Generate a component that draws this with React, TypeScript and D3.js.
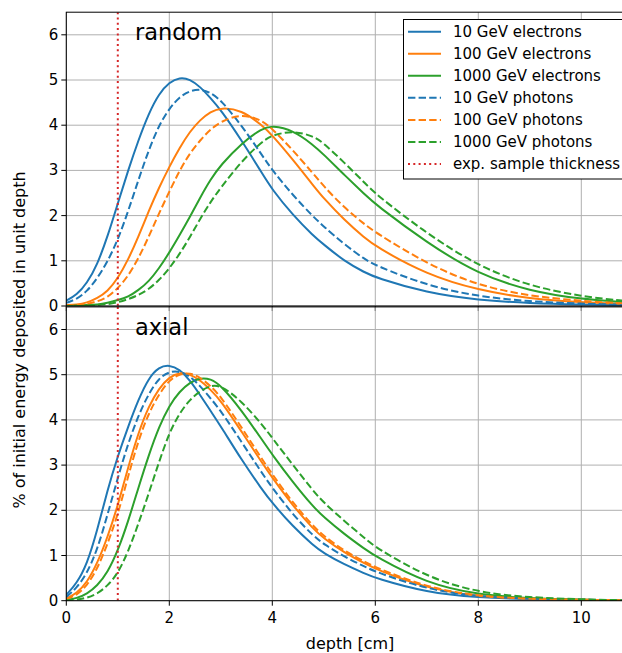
import React from "react";
import * as d3 from "d3";

// depth samples [cm]
const depth = [0, 0.2, 0.4, 0.6, 0.8, 1.0, 1.2, 1.4, 1.6, 1.8, 2.0, 2.2, 2.4, 2.6, 2.8, 3.0, 3.4, 3.8, 4.0, 4.4, 4.8, 5.0, 5.4, 5.8, 6.0, 7, 8, 9, 10, 10.8];

// random orientation
const randomE10 = [0.12, 0.24, 0.5, 0.91, 1.53, 2.27, 3.0, 3.67, 4.26, 4.7, 4.95, 5.06, 5.02, 4.85, 4.6, 4.34, 3.67, 2.94, 2.57, 2.01, 1.55, 1.36, 0.99, 0.74, 0.63, 0.29, 0.13, 0.06, 0.03, 0.02];
const randomE100 = [0.02, 0.03, 0.07, 0.17, 0.32, 0.61, 1.02, 1.53, 2.1, 2.62, 3.08, 3.5, 3.86, 4.12, 4.3, 4.39, 4.34, 4.0, 3.78, 3.24, 2.66, 2.38, 1.9, 1.5, 1.32, 0.69, 0.35, 0.16, 0.08, 0.05];
const randomE1000 = [0, 0.01, 0.02, 0.03, 0.07, 0.13, 0.2, 0.35, 0.54, 0.83, 1.18, 1.57, 1.97, 2.4, 2.8, 3.12, 3.6, 3.93, 3.99, 3.89, 3.56, 3.35, 2.9, 2.46, 2.25, 1.4, 0.7, 0.33, 0.15, 0.09];
const randomP10 = [0.07, 0.15, 0.32, 0.61, 0.98, 1.46, 2.09, 2.79, 3.45, 4.0, 4.37, 4.63, 4.76, 4.8, 4.72, 4.56, 4.0, 3.34, 3.0, 2.45, 1.97, 1.76, 1.36, 1.03, 0.9, 0.45, 0.21, 0.1, 0.05, 0.03];
const randomP100 = [0.01, 0.02, 0.04, 0.1, 0.19, 0.39, 0.66, 1.05, 1.53, 2.05, 2.53, 3.0, 3.38, 3.67, 3.91, 4.08, 4.26, 4.11, 3.92, 3.45, 2.92, 2.65, 2.17, 1.8, 1.63, 0.93, 0.45, 0.22, 0.11, 0.06];
const randomP1000 = [0, 0, 0.01, 0.02, 0.04, 0.08, 0.15, 0.24, 0.37, 0.57, 0.83, 1.15, 1.52, 1.93, 2.3, 2.62, 3.2, 3.64, 3.78, 3.88, 3.76, 3.6, 3.17, 2.72, 2.48, 1.6, 0.88, 0.44, 0.21, 0.12];

// axial orientation
const axialE10 = [0.13, 0.38, 0.8, 1.55, 2.45, 3.2, 3.85, 4.45, 4.93, 5.17, 5.22, 5.12, 4.88, 4.55, 4.2, 3.86, 3.12, 2.46, 2.16, 1.64, 1.22, 1.05, 0.8, 0.6, 0.5, 0.18, 0.07, 0.03, 0.02, 0.01];
const axialE100 = [0.05, 0.16, 0.4, 0.82, 1.4, 2.1, 2.95, 3.72, 4.3, 4.7, 4.95, 5.05, 5.01, 4.88, 4.67, 4.43, 3.75, 3.05, 2.72, 2.1, 1.58, 1.38, 1.06, 0.82, 0.7, 0.27, 0.09, 0.04, 0.02, 0.01];
const axialE1000 = [0.02, 0.05, 0.15, 0.33, 0.62, 1.1, 1.75, 2.5, 3.22, 3.85, 4.32, 4.63, 4.83, 4.93, 4.91, 4.77, 4.22, 3.56, 3.23, 2.62, 2.07, 1.85, 1.47, 1.14, 0.98, 0.38, 0.13, 0.05, 0.02, 0.01];
const axialP10 = [0.08, 0.28, 0.6, 1.12, 1.9, 2.72, 3.48, 4.1, 4.58, 4.93, 5.07, 5.08, 4.97, 4.75, 4.48, 4.2, 3.52, 2.82, 2.5, 1.9, 1.43, 1.25, 0.97, 0.75, 0.64, 0.25, 0.09, 0.04, 0.02, 0.01];
const axialP100 = [0.03, 0.12, 0.33, 0.7, 1.25, 1.9, 2.75, 3.55, 4.15, 4.57, 4.88, 5.02, 5.04, 4.94, 4.75, 4.52, 3.84, 3.13, 2.8, 2.16, 1.64, 1.43, 1.1, 0.86, 0.74, 0.29, 0.1, 0.04, 0.02, 0.01];
const axialP1000 = [0.01, 0.02, 0.06, 0.15, 0.33, 0.6, 1.08, 1.7, 2.37, 3.07, 3.72, 4.15, 4.45, 4.64, 4.76, 4.77, 4.42, 3.9, 3.6, 3.0, 2.42, 2.17, 1.76, 1.38, 1.18, 0.52, 0.18, 0.07, 0.03, 0.01];

const labels = ["10 GeV electrons", "100 GeV electrons", "1000 GeV electrons", "10 GeV photons", "100 GeV photons", "1000 GeV photons", "exp. sample thickness"];
const sampleThickness = 1.0;
const xTicks = [0, 2, 4, 6, 8, 10];
const yTicks = [0, 1, 2, 3, 4, 5, 6];

const colors = ["#1f77b4", "#ff7f0e", "#2ca02c"];
const red = "#d62728";
const font = "DejaVu Sans, sans-serif";

const x = d3.scaleLinear().domain([0, 10.8]).range([66.3, 622.5]);

const panels = [
  { name: "random", top: 12.2, bottom: 306, data: [randomE10, randomE100, randomE1000, randomP10, randomP100, randomP1000] },
  { name: "axial", top: 306.9, bottom: 600.7, data: [axialE10, axialE100, axialE1000, axialP10, axialP100, axialP1000] },
];

function Panel({ p, idx, last }) {
  const y = d3.scaleLinear().domain([0, 6.5]).range([p.bottom, p.top]);
  const line = d3.line<number>()
    .x((d, i) => x(depth[i]))
    .y(d => y(d))
    .curve(d3.curveBasis);
  const [x0, x1] = x.range();
  const clipId = "clip" + idx;
  return (
    <g>
      <clipPath id={clipId}>
        <rect x={x0} y={p.top} width={x1 - x0} height={p.bottom - p.top} />
      </clipPath>
      {/* grid */}
      {xTicks.map(t => (
        <line key={"gx" + t} x1={x(t)} x2={x(t)} y1={p.top} y2={p.bottom} stroke="#b0b0b0" strokeWidth={1} />
      ))}
      {yTicks.map(t => (
        <line key={"gy" + t} x1={x0} x2={x1} y1={y(t)} y2={y(t)} stroke="#b0b0b0" strokeWidth={1} />
      ))}
      <g clipPath={`url(#${clipId})`}>
        {p.data.map((vals, i) => (
          <path key={i} d={line(vals) || ""} fill="none" stroke={colors[i % 3]} strokeWidth={2}
            strokeDasharray={i >= 3 ? "7.4,3.2" : undefined} />
        ))}
        <line x1={x(sampleThickness)} x2={x(sampleThickness)} y1={p.top} y2={p.bottom}
          stroke={red} strokeWidth={2} strokeDasharray="2,3.3" />
      </g>
      {/* spines */}
      <rect x={x0} y={p.top} width={x1 - x0} height={p.bottom - p.top} fill="none" stroke="#000" strokeWidth={1} />
      {/* y ticks */}
      {yTicks.map(t => (
        <g key={"ty" + t}>
          <line x1={x0 - 5} x2={x0} y1={y(t)} y2={y(t)} stroke="#000" strokeWidth={1} />
          <text x={x0 - 8} y={y(t) + 5} textAnchor="end" fontSize={15} fontFamily={font}>{t}</text>
        </g>
      ))}
      {/* x ticks */}
      {xTicks.map(t => (
        <g key={"tx" + t}>
          <line x1={x(t)} x2={x(t)} y1={p.bottom} y2={p.bottom + 5} stroke="#000" strokeWidth={1} />
          {last && <text x={x(t)} y={p.bottom + 22} textAnchor="middle" fontSize={15} fontFamily={font}>{t}</text>}
        </g>
      ))}
      <text x={135} y={p.top + 28} fontSize={22.5} fontFamily={font}>{p.name}</text>
    </g>
  );
}

function Legend() {
  const lx = 403.5, ly = 19.5, rowH = 22.05;
  return (
    <g>
      <rect x={lx} y={ly} width={240} height={159.5} fill="#fff" stroke="#000" strokeWidth={1} />
      {labels.map((lab, i) => {
        const cy = 31.7 + i * rowH;
        const stroke = i < 6 ? colors[i % 3] : red;
        const dash = i === 6 ? "2,3.3" : i >= 3 ? "7.4,3.2" : undefined;
        return (
          <g key={lab}>
            <line x1={408} x2={441} y1={cy} y2={cy} stroke={stroke} strokeWidth={2} strokeDasharray={dash} />
            <text x={453} y={cy + 5.3} fontSize={15} fontFamily={font}>{lab}</text>
          </g>
        );
      })}
    </g>
  );
}

export default function App() {
  return (
    <svg width={622} height={653} style={{ position: "absolute", left: 0, top: 0, background: "#fff" }}>
      <rect width={622} height={653} fill="#fff" />
      {panels.map((p, i) => (
        <Panel key={p.name} p={p} idx={i} last={i === panels.length - 1} />
      ))}
      <Legend />
      <text transform="translate(25,340) rotate(-90)" textAnchor="middle" fontSize={16} fontFamily={font}>
        % of initial energy deposited in unit depth
      </text>
      <text x={350} y={649} textAnchor="middle" fontSize={16} fontFamily={font}>depth [cm]</text>
    </svg>
  );
}
